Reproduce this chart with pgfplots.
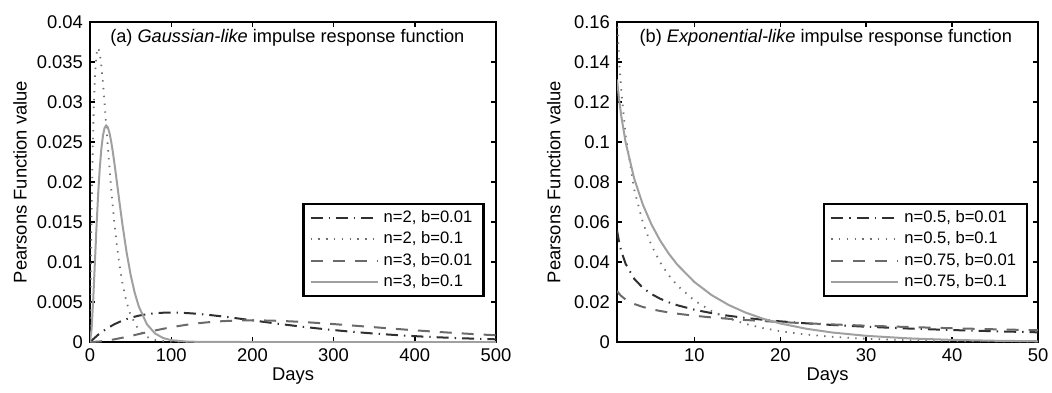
\documentclass[border=0pt]{standalone}
\usepackage{fontspec}
\setmainfont{Liberation Sans}
\usepackage{pgfplots}
\pgfplotsset{compat=1.18}
\definecolor{cA}{HTML}{303030}
\definecolor{cB}{HTML}{707070}
\definecolor{cC}{HTML}{6A6A6A}
\definecolor{cD}{HTML}{A0A0A0}
\pgfplotsset{
  every axis/.append style={
    scale only axis, height=160pt,
    axis line style={line width=1.3pt},
    tick style={black, line width=0.7pt},
    major tick length=2.5pt,
    tick align=inside,
    font=\fontsize{9.2}{11}\selectfont,
    /pgf/number format/assume math mode=true,
    scaled y ticks=false,
    yticklabel style={/pgf/number format/fixed, /pgf/number format/precision=3},
    xlabel={Days},
    ylabel={Pearsons Function value},
    xlabel style={at={(axis description cs:0.5,-0.106)}, anchor=center},
    legend cell align=left,
    legend style={draw=black, line width=1.3pt, font=\fontsize{8.3}{9.5}\selectfont,
      row sep=0pt, inner xsep=3pt, inner ysep=1.5pt, anchor=south east,
      nodes={inner ysep=1.6pt, inner xsep=2.5pt}},
    legend image code/.code={\draw[#1] (0cm,0cm) -- (1.18cm,0cm);},
  },
  ldd/.style={cA, line width=1pt, dash pattern=on 6pt off 3pt on 0.7pt off 3pt},
  ldot/.style={cB, line width=0.9pt, dash pattern=on 0.7pt off 3.2pt},
  ldash/.style={cC, line width=1pt, dash pattern=on 6pt off 5pt},
  lsol/.style={cD, line width=1pt},
}
\begin{document}
\begin{tikzpicture}
\path[use as bounding box] (0,0) rectangle (526pt,196pt);
% ---------------- panel a
\begin{axis}[at={(45pt,25pt)}, anchor=south west, width=203pt,
  xmin=0, xmax=500, ymin=0, ymax=0.04,
  xtick={0,100,...,500},
  ytick={0,0.005,0.01,0.015,0.02,0.025,0.03,0.035,0.04},
  ylabel style={at={(axis description cs:-0.172,0.5)}, anchor=center},
  legend style={at={(axis description cs:0.972,0.14)}},
]
\addplot[ldd] coordinates {
(0,0) (10,0.000905) (20,0.001637) (30,0.002222) (40,0.002681) (50,0.003033)
(60,0.003293) (70,0.003476) (80,0.003595) (90,0.003659) (100,0.003679)
(110,0.003662) (120,0.003614) (130,0.003543) (140,0.003452) (150,0.003347)
(160,0.003230) (170,0.003106) (180,0.002975) (190,0.002842) (200,0.002707)
(210,0.002572) (220,0.002438) (230,0.002306) (240,0.002177) (250,0.002052)
(260,0.001931) (270,0.001815) (280,0.001703) (290,0.001596) (300,0.001494)
(310,0.001397) (320,0.001304) (330,0.001217) (340,0.001135) (350,0.001057)
(360,0.000984) (370,0.000915) (380,0.000850) (390,0.000789) (400,0.000733)
(410,0.000679) (420,0.000630) (430,0.000583) (440,0.000540) (450,0.000500)
(460,0.000462) (470,0.000427) (480,0.000395) (490,0.000365) (500,0.000337)
};
\addlegendentry{n=2, b=0.01}
\addplot[ldot] coordinates {
(0,0) (1,0.009048) (2,0.016375) (3,0.022225) (4,0.026813) (5,0.030327)
(6,0.032929) (7,0.034761) (8,0.035946) (9,0.036591) (10,0.036788)
(12,0.036143) (14,0.034524) (16,0.032304) (18,0.029754) (20,0.027067)
(22,0.024377) (24,0.021772) (26,0.019311) (28,0.017027) (30,0.014936)
(33,0.012171) (36,0.009837) (40,0.007326) (45,0.004999) (50,0.003369)
(60,0.001487) (70,0.000638) (80,0.000268) (90,0.000111) (100,0.0000454)
(120,0.0000074) (150,0) (200,0) (300,0) (400,0) (500,0)
};
\addlegendentry{n=2, b=0.1}
\addplot[ldash] coordinates {
(0,0) (10,0.0000452) (20,0.000164) (30,0.000333) (40,0.000536) (50,0.000758)
(60,0.000988) (70,0.001217) (80,0.001438) (90,0.001647) (100,0.001839)
(110,0.002014) (120,0.002169) (130,0.002303) (140,0.002417) (150,0.002510)
(160,0.002584) (170,0.002640) (180,0.002678) (190,0.002700) (200,0.002707)
(210,0.002700) (220,0.002681) (230,0.002652) (240,0.002613) (250,0.002565)
(260,0.002510) (270,0.002450) (280,0.002384) (290,0.002314) (300,0.002240)
(310,0.002165) (320,0.002087) (330,0.002008) (340,0.001929) (350,0.001850)
(360,0.001771) (370,0.001692) (380,0.001615) (390,0.001539) (400,0.001465)
(410,0.001393) (420,0.001323) (430,0.001254) (440,0.001188) (450,0.001125)
(460,0.001064) (470,0.001005) (480,0.000948) (490,0.000894) (500,0.000842)
};
\addlegendentry{n=3, b=0.01}
\addplot[lsol] coordinates {
(0,0) (2,0.001637) (4,0.005363) (6,0.009879) (8,0.014379) (10,0.018394)
(12,0.021686) (14,0.024167) (16,0.025843) (18,0.026778) (20,0.027067)
(22,0.026814) (24,0.026127) (26,0.025105) (28,0.023838) (30,0.022404)
(33,0.020083) (36,0.017706) (40,0.014653) (45,0.011248) (50,0.008422)
(55,0.006181) (60,0.004462) (70,0.002234) (80,0.001073) (90,0.000500)
(100,0.000227) (120,0.0000442) (150,0.0000034) (200,0) (300,0) (400,0) (500,0)
};
\addlegendentry{n=3, b=0.1}
\node[anchor=center, font=\fontsize{9.1}{10.5}\selectfont] at (axis description cs:0.486,0.952)
  {(a) \textit{Gaussian-like} impulse response function};
\end{axis}
% ---------------- panel b
\begin{axis}[at={(308.5pt,25pt)}, anchor=south west, width=210.5pt,
  xmin=1, xmax=50, ymin=0, ymax=0.16,
  xtick={10,20,30,40,50},
  ytick={0,0.02,0.04,0.06,0.08,0.1,0.12,0.14,0.16},
  ylabel style={at={(axis description cs:-0.15,0.5)}, anchor=center},
  legend style={at={(axis description cs:0.977,0.14)}},
]
\addplot[ldd] coordinates {
(1,0.055858) (1.25,0.049836) (1.5,0.045380) (2,0.039104) (3,0.031611) (4,0.027104)
(5,0.024001) (6,0.021692) (7,0.019883) (8,0.018413) (10,0.016143)
(12,0.014445) (14,0.013109) (16,0.012019) (18,0.011107) (20,0.010329)
(23,0.009347) (26,0.008532) (30,0.007631) (35,0.006720) (40,0.005980)
(45,0.005363) (50,0.004839)
};
\addlegendentry{n=0.5, b=0.01}
\addplot[ldot] coordinates {
(1,0.161434) (1.25,0.140826) (1.5,0.125382) (2,0.103288) (3,0.076309) (4,0.059797)
(5,0.048394) (6,0.039973) (7,0.033486) (8,0.028343) (10,0.020755)
(12,0.015512) (14,0.011758) (16,0.009005) (18,0.006951) (20,0.005399)
(23,0.003730) (26,0.002599) (30,0.001622) (35,0.000911) (40,0.000517)
(45,0.000295) (50,0.000170)
};
\addlegendentry{n=0.5, b=0.1}
\addplot[ldash] coordinates {
(1,0.025549) (1.25,0.024103) (1.5,0.022971) (2,0.021270) (3,0.019029) (4,0.017532)
(5,0.016416) (6,0.015529) (7,0.014793) (8,0.014164) (10,0.013131)
(12,0.012297) (14,0.011598) (16,0.010995) (18,0.010465) (20,0.009991)
(23,0.009363) (26,0.008812) (30,0.008169) (35,0.007477) (40,0.006878)
(45,0.006353) (50,0.005886)
};
\addlegendentry{n=0.75, b=0.01}
\addplot[lsol] coordinates {
(1,0.131306) (1.25,0.121116) (1.5,0.112862) (2,0.099908) (3,0.081686) (4,0.068783)
(5,0.058861) (6,0.050886) (7,0.044303) (8,0.038771) (10,0.030021)
(12,0.023484) (14,0.018500) (16,0.014649) (18,0.011646) (20,0.009287)
(23,0.006644) (26,0.004773) (30,0.003087) (35,0.001802) (40,0.001057)
(45,0.000622) (50,0.000368)
};
\addlegendentry{n=0.75, b=0.1}
\node[anchor=center, font=\fontsize{9.1}{10.5}\selectfont] at (axis description cs:0.496,0.952)
  {(b) \textit{Exponential-like} impulse response function};
\end{axis}
\end{tikzpicture}
\end{document}
